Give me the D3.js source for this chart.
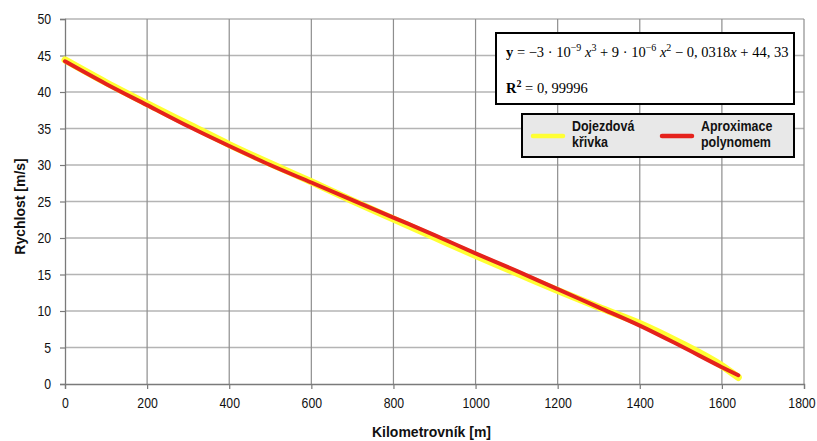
<!DOCTYPE html>
<html>
<head>
<meta charset="utf-8">
<script src="https://cdn.jsdelivr.net/npm/d3@7"></script>
<style>
  body { margin: 0; background: #fff; }
  svg { display: block; }
  .tick text { font-family: "Liberation Sans", Arial, sans-serif; font-size: 15px; fill: #111; }
</style>
</head>
<body>
<div id="chart"></div>
<script>
// values
const kmX      = [0, 100, 200, 300, 400, 500, 600, 700, 800, 900, 1000, 1100, 1200, 1300, 1400, 1500, 1600, 1640];
const dojezd   = [44.4, 41.3, 38.4, 35.6, 32.8, 30.2, 27.7, 25.1, 22.6, 20.1, 17.6, 15.2, 12.8, 10.5, 8.3, 5.6, 2.5, 0.9];
const aprox    = [44.2, 41.1, 38.2, 35.3, 32.6, 30.0, 27.6, 25.2, 22.8, 20.4, 17.9, 15.5, 13.0, 10.5, 8.0, 5.2, 2.3, 1.2];
const xTicks   = [0, 200, 400, 600, 800, 1000, 1200, 1400, 1600, 1800];
const yTicks   = [0, 5, 10, 15, 20, 25, 30, 35, 40, 45, 50];
const legendNames = [["Dojezdová", "křivka"], ["Aproximace", "polynomem"]];

const W = 817, H = 441;
const margin = { top: 19, right: 13, bottom: 57, left: 65 };
const width = W - margin.left - margin.right,
      height = H - margin.top - margin.bottom;
const sans = "'Liberation Sans', Arial, sans-serif";
const squeeze = 0.82; // source font is narrower than Liberation Sans

const svg = d3.select("#chart").append("svg")
    .attr("width", W).attr("height", H);
const g = svg.append("g").attr("transform", `translate(${margin.left},${margin.top})`);

const x = d3.scaleLinear().domain([0, 1800]).range([0, width]);
const y = d3.scaleLinear().domain([0, 50]).range([height, 0]);

// grid
g.selectAll(".hgrid").data(yTicks.filter(d => d > 0)).enter().append("line")
    .attr("x1", 0).attr("x2", width)
    .attr("y1", d => y(d)).attr("y2", d => y(d))
    .attr("stroke", "#b4b4b4").attr("stroke-width", 1.3);
g.selectAll(".vgrid").data(xTicks.filter(d => d > 0)).enter().append("line")
    .attr("x1", d => x(d)).attr("x2", d => x(d))
    .attr("y1", 0).attr("y2", height)
    .attr("stroke", "#8e8e8e").attr("stroke-width", 1.2);

// axes
const xAxis = g.append("g").attr("transform", `translate(0,${height})`)
    .call(d3.axisBottom(x).tickValues(xTicks).tickSize(5).tickPadding(8).tickFormat(d3.format("d")));
const yAxis = g.append("g")
    .call(d3.axisLeft(y).tickValues(yTicks).tickSize(5).tickPadding(12).tickFormat(d3.format("d")));
[xAxis, yAxis].forEach(a => {
    a.select(".domain").attr("stroke", "#7a7a7a").attr("stroke-width", 1.3);
    a.selectAll(".tick line").attr("stroke", "#7a7a7a").attr("stroke-width", 1.2);
    a.selectAll(".tick text").attr("transform", `scale(${squeeze},1)`);
});
// keep the last x label inside the window
xAxis.selectAll(".tick text").filter(d => d === 1800).attr("x", -3);

// series
const line = d3.line().x(d => x(d[0])).y(d => y(d[1])).curve(d3.curveMonotoneX);
g.append("path").datum(kmX.map((k, i) => [k, dojezd[i]]))
    .attr("d", line).attr("fill", "none")
    .attr("stroke", "#ffff33").attr("stroke-width", 7).attr("stroke-linecap", "round");
g.append("path").datum(kmX.map((k, i) => [k, aprox[i]]))
    .attr("d", line).attr("fill", "none")
    .attr("stroke", "#e5221c").attr("stroke-width", 4).attr("stroke-linecap", "round");

// axis titles
svg.append("text")
    .attr("x", margin.left + width / 2 - 3).attr("y", 437)
    .attr("text-anchor", "middle")
    .style("font-family", sans)
    .style("font-weight", "bold").style("font-size", "14px").attr("fill", "#111")
    .text("Kilometrovník [m]");
svg.append("text")
    .attr("transform", `translate(25,${margin.top + height / 2 + 5}) rotate(-90)`)
    .attr("text-anchor", "middle")
    .style("font-family", sans)
    .style("font-weight", "bold").style("font-size", "14px").attr("fill", "#111")
    .text("Rychlost [m/s]");

// equation box
const eq = svg.append("g");
eq.append("rect").attr("x", 496).attr("y", 33).attr("width", 298).attr("height", 71)
    .attr("fill", "#fff").attr("stroke", "#000").attr("stroke-width", 2);
const serif = "'Liberation Serif', 'DejaVu Serif', serif";
const eqText = eq.append("text").attr("x", 506).attr("y", 57)
    .style("font-family", serif).style("font-size", "14.5px").attr("fill", "#000");
eqText.append("tspan").style("font-weight", "bold").text("y");
eqText.append("tspan").text(" = −3 · 10");
eqText.append("tspan").attr("dy", -6).style("font-size", "10px").text("−9");
eqText.append("tspan").attr("dy", 6).style("font-style", "italic").text(" x");
eqText.append("tspan").attr("dy", -6).style("font-size", "10px").text("3");
eqText.append("tspan").attr("dy", 6).text(" + 9 · 10");
eqText.append("tspan").attr("dy", -6).style("font-size", "10px").text("−6");
eqText.append("tspan").attr("dy", 6).style("font-style", "italic").text(" x");
eqText.append("tspan").attr("dy", -6).style("font-size", "10px").text("2");
eqText.append("tspan").attr("dy", 6).text(" − 0, 0318");
eqText.append("tspan").style("font-style", "italic").text("x");
eqText.append("tspan").text(" + 44, 33");
const r2 = eq.append("text").attr("x", 506).attr("y", 93)
    .style("font-family", serif).style("font-size", "14.5px").attr("fill", "#000");
r2.append("tspan").style("font-weight", "bold").text("R");
r2.append("tspan").attr("dy", -6).style("font-size", "10px").style("font-weight", "bold").text("2");
r2.append("tspan").attr("dy", 6).text(" = 0, 99996");

// legend
const lg = svg.append("g");
lg.append("rect").attr("x", 522).attr("y", 114).attr("width", 272).attr("height", 43)
    .attr("fill", "#e8e8e8").attr("stroke", "#000").attr("stroke-width", 2);
const legendColors = ["#ffff33", "#e5221c"];
const legendX = [532, 661];
legendNames.forEach((names, i) => {
    lg.append("line")
        .attr("x1", legendX[i] + 1).attr("x2", legendX[i] + 31)
        .attr("y1", 136).attr("y2", 136)
        .attr("stroke", legendColors[i]).attr("stroke-width", 4.5).attr("stroke-linecap", "round");
    const t = lg.append("g")
        .attr("transform", `translate(${legendX[i] + 40},131) scale(0.86,1)`)
        .append("text")
        .style("font-family", sans)
        .style("font-weight", "bold").style("font-size", "14.5px").attr("fill", "#111");
    t.append("tspan").attr("x", 0).text(names[0]);
    t.append("tspan").attr("x", 0).attr("dy", 16).text(names[1]);
});
</script>
</body>
</html>
